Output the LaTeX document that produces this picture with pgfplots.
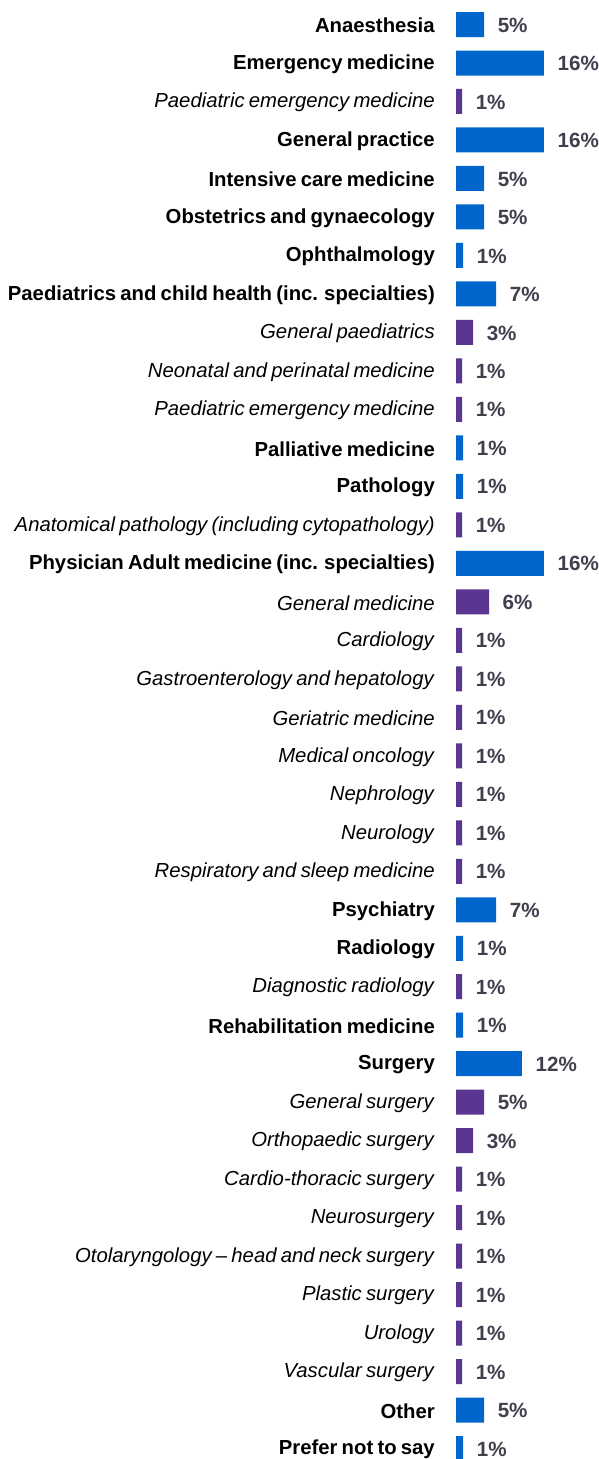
\documentclass[border=0pt]{standalone}
\usepackage{pgfplots}
\usepackage{pgfplotstable}
\pgfplotsset{compat=1.18}
\usepackage{fontspec}
\setmainfont{Liberation Sans}[WordSpace=0.75]
\definecolor{barblue}{HTML}{0066CC}
\definecolor{barpurple}{HTML}{5B3592}
\definecolor{valgrey}{HTML}{3F3F4E}

\pgfplotstableread{
y x lab
0 5.1 5
1 16 16
3 16 16
4 5.1 5
5 5.1 5
6 1.3 1
7 7.3 7
11 1.3 1
12 1.3 1
14 16 16
23 7.3 7
24 1.3 1
26 1.3 1
27 12 12
36 5.1 5
37 1.3 1
}\bluedata

\pgfplotstableread{
y x lab
2 1.1 1
8 3.1 3
9 1.1 1
10 1.1 1
13 1.1 1
15 6.0 6
16 1.1 1
17 1.1 1
18 1.1 1
19 1.1 1
20 1.1 1
21 1.1 1
22 1.1 1
25 1.1 1
28 5.1 5
29 3.1 3
30 1.1 1
31 1.1 1
32 1.1 1
33 1.1 1
34 1.1 1
35 1.1 1
}\purpledata

\begin{document}
\begin{tikzpicture}
\begin{axis}[
  at={(456pt,-5.25pt)}, anchor=north west,
  scale only axis, width=143pt, height=1462.6pt,
  xmin=0, xmax=26, ymin=-0.5, ymax=37.5, y dir=reverse,
  xbar, bar width=25pt, bar shift=0pt,
  axis line style={draw=none}, xtick=\empty,
  ytick={0,...,37},
  yticklabels={
    \textbf{Anaesthesia},
    \textbf{Emergency medicine},
    \textit{Paediatric emergency medicine},
    \textbf{General practice},
    \textbf{Intensive care medicine},
    \textbf{Obstetrics and gynaecology},
    \textbf{Ophthalmology},
    \textbf{Paediatrics and child health (inc. specialties)},
    \textit{General paediatrics},
    \textit{Neonatal and perinatal medicine},
    \textit{Paediatric emergency medicine},
    \textbf{Palliative medicine},
    \textbf{Pathology},
    \textit{Anatomical pathology (including cytopathology)},
    \textbf{Physician Adult medicine (inc. specialties)},
    \textit{General medicine},
    \textit{Cardiology},
    \textit{Gastroenterology and hepatology},
    \textit{Geriatric medicine},
    \textit{Medical oncology},
    \textit{Nephrology},
    \textit{Neurology},
    \textit{Respiratory and sleep medicine},
    \textbf{Psychiatry},
    \textbf{Radiology},
    \textit{Diagnostic radiology},
    \textbf{Rehabilitation medicine},
    \textbf{Surgery},
    \textit{General surgery},
    \textit{Orthopaedic surgery},
    \textit{Cardio-thoracic surgery},
    \textit{Neurosurgery},
    \textit{Otolaryngology -- head and neck surgery},
    \textit{Plastic surgery},
    \textit{Urology},
    \textit{Vascular surgery},
    \textbf{Other},
    \textbf{Prefer not to say}
  },
  major tick length=0pt,
  yticklabel style={font=\fontsize{20.3}{24}\selectfont, inner sep=0pt, xshift=-21pt, yshift=-1pt, anchor=east, text=black},
  nodes near coords={\pgfplotspointmeta\%},
  point meta=explicit symbolic,
  every node near coord/.append style={font=\bfseries\fontsize{20.6}{24}\selectfont, text=valgrey, anchor=west, inner sep=0pt, xshift=13.5pt, yshift=-0.5pt},
  clip=false,
]
\addplot[fill=barblue, draw=none] table[x=x, y=y, meta=lab] {\bluedata};
\addplot[fill=barpurple, draw=none] table[x=x, y=y, meta=lab] {\purpledata};
\end{axis}
\pgfresetboundingbox
\path (0pt,0pt) rectangle (599pt,-1459pt);
\end{tikzpicture}
\end{document}
